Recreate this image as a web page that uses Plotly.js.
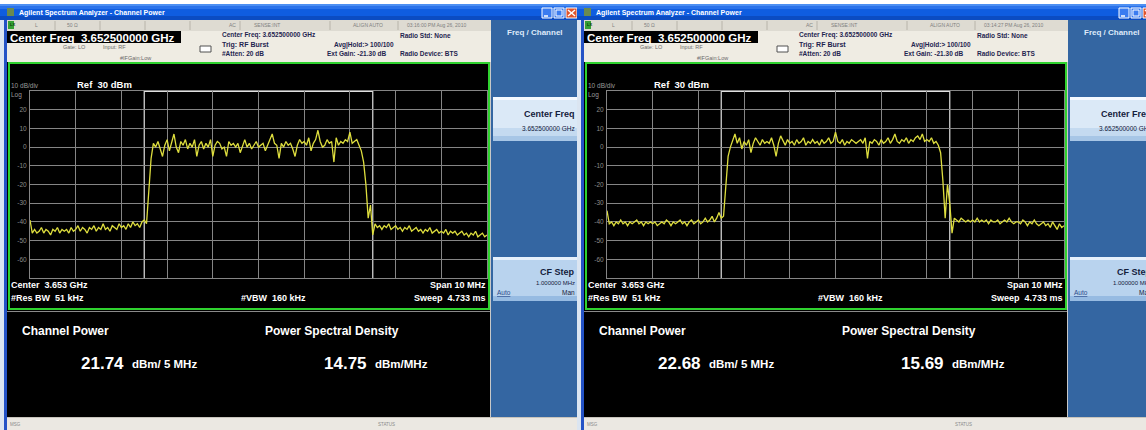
<!DOCTYPE html>
<html><head><meta charset="utf-8">
<script src="https://cdn.plot.ly/plotly-3.0.1.min.js"></script>
<style>html,body{margin:0;padding:0;background:#fff;overflow:hidden}#chart{width:1146px;height:430px}</style>
</head><body><div id="chart"></div>
<script>
// Frequency offset from the 3.6525 GHz centre (MHz), span 10 MHz
const freqOffsetMHz = [
 -5,-4.95,-4.9,-4.85,-4.8,-4.75,-4.7,-4.65,-4.6,-4.55,
 -4.5,-4.45,-4.4,-4.35,-4.3,-4.25,-4.2,-4.15,-4.1,-4.05,
 -4,-3.95,-3.9,-3.85,-3.8,-3.75,-3.7,-3.65,-3.6,-3.55,
 -3.5,-3.45,-3.4,-3.35,-3.3,-3.25,-3.2,-3.15,-3.1,-3.05,
 -3,-2.95,-2.9,-2.85,-2.8,-2.75,-2.7,-2.65,-2.6,-2.55,
 -2.5,-2.45,-2.4,-2.35,-2.3,-2.25,-2.2,-2.15,-2.1,-2.05,
 -2,-1.95,-1.9,-1.85,-1.8,-1.75,-1.7,-1.65,-1.6,-1.55,
 -1.5,-1.45,-1.4,-1.35,-1.3,-1.25,-1.2,-1.15,-1.1,-1.05,
 -1,-0.95,-0.9,-0.85,-0.8,-0.75,-0.7,-0.65,-0.6,-0.55,
 -0.5,-0.45,-0.4,-0.35,-0.3,-0.25,-0.2,-0.15,-0.1,-0.05,
 0,0.05,0.1,0.15,0.2,0.25,0.3,0.35,0.4,0.45,
 0.5,0.55,0.6,0.65,0.7,0.75,0.8,0.85,0.9,0.95,
 1,1.05,1.1,1.15,1.2,1.25,1.3,1.35,1.4,1.45,
 1.5,1.55,1.6,1.65,1.7,1.75,1.8,1.85,1.9,1.95,
 2,2.05,2.1,2.15,2.2,2.25,2.3,2.35,2.4,2.45,
 2.5,2.55,2.6,2.65,2.7,2.75,2.8,2.85,2.9,2.95,
 3,3.05,3.1,3.15,3.2,3.25,3.3,3.35,3.4,3.45,
 3.5,3.55,3.6,3.65,3.7,3.75,3.8,3.85,3.9,3.95,
 4,4.05,4.1,4.15,4.2,4.25,4.3,4.35,4.4,4.45,
 4.5,4.55,4.6,4.65,4.7,4.75,4.8,4.85,4.9,4.95,
 5
];
// Left screen trace (dBm)
const traceLeftDbm = [
 -39,-46,-44,-46,-45,-43,-46,-44,-45,-47,
 -44,-45,-43,-46,-44,-45,-44,-46,-43,-45,
 -44,-42,-45,-43,-44,-46,-43,-44,-42,-45,
 -43,-44,-41,-44,-43,-45,-42,-43,-44,-41,
 -43,-42,-44,-41,-43,-40,-42,-41,-43,-40,
 -39,-41,-22,-6,2,0,3,-1,-5,1,
 4,-2,2,7,0,-3,3,1,4,-1,
 2,0,4,-5,1,3,-1,2,0,4,
 -5,1,3,2,-1,0,-5,3,1,2,
 0,2,-3,1,4,0,2,-1,1,3,
 0,1,2,-2,1,3,7,2,1,-6,
 2,0,3,1,2,-1,-5,1,4,2,
 3,1,5,-2,2,4,9,3,0,1,
 4,2,3,-8,5,1,3,2,4,3,
 8,2,3,4,1,-2,-8,-20,-38,-31,
 -47,-41,-43,-42,-44,-42,-43,-41,-44,-43,
 -42,-44,-43,-45,-43,-44,-42,-45,-44,-43,
 -45,-44,-46,-44,-45,-43,-46,-45,-44,-46,
 -45,-46,-44,-47,-45,-46,-45,-47,-46,-45,
 -47,-46,-48,-46,-47,-45,-48,-47,-46,-48,
 -47
];
// Right screen trace (dBm)
const traceRightDbm = [
 -34,-41,-40,-42,-40,-41,-39,-41,-40,-42,
 -40,-41,-40,-39,-41,-40,-42,-40,-41,-40,
 -41,-40,-42,-41,-40,-41,-39,-40,-42,-40,
 -41,-40,-39,-41,-40,-42,-40,-39,-41,-40,
 -39,-41,-40,-38,-40,-39,-37,-40,-38,-35,
 -38,-37,-20,-5,0,4,7,2,5,-1,
 3,1,4,-3,2,5,3,1,4,2,
 3,2,5,1,-5,2,6,3,1,4,
 2,3,1,4,2,3,5,1,3,2,
 4,2,3,1,4,2,3,5,2,3,
 8,3,2,4,1,3,2,4,3,2,
 3,4,2,5,-6,3,2,4,3,1,
 4,2,3,5,2,4,7,3,2,4,
 3,5,2,4,3,5,6,4,7,3,
 4,3,5,2,3,1,-3,-18,-38,-20,
 -30,-46,-38,-39,-40,-38,-39,-40,-39,-40,
 -39,-40,-38,-40,-39,-40,-39,-41,-39,-40,
 -40,-39,-41,-40,-39,-40,-38,-40,-41,-40,
 -40,-41,-39,-40,-42,-40,-41,-39,-41,-42,
 -41,-40,-42,-41,-43,-40,-42,-44,-41,-43,
 -42
];
const yTickVals = [20,10,0,-10,-20,-30,-40,-50,-60];
const yTickText = ['20','10','0','-10','-20','-30','-40','-50','-60'];
const screenTimes = ['03:16:00 PM Aug 26, 2010','03:14:27 PM Aug 26, 2010'];
const channelPowerValues = ['21.74','22.68'];
const psdValues = ['14.75','15.69'];

const W = 1146, H = 430;
const FONT = 'Liberation Sans, Arial, sans-serif';
const shapes = [], annotations = [];
function R(x0,y0,x1,y1,fill,lc,lw){
  shapes.push({type:'rect',xref:'paper',yref:'paper',x0:x0/W,x1:x1/W,y0:1-y1/H,y1:1-y0/H,
    fillcolor:fill||'rgba(0,0,0,0)',line:{width:lw||0,color:lc||'rgba(0,0,0,0)'},layer:'below'});
}
function L(x0,y0,x1,y1,color,lw){
  shapes.push({type:'line',xref:'paper',yref:'paper',x0:x0/W,x1:x1/W,y0:1-y0/H,y1:1-y1/H,
    line:{color:color,width:lw||1},layer:'below'});
}
function T(x,y,text,size,color,anchor,bold){
  annotations.push({xref:'paper',yref:'paper',x:x/W,y:1-y/H,text:bold?'<b>'+text+'</b>':text,
    showarrow:false,xanchor:anchor||'left',yanchor:'middle',borderpad:0,
    font:{size:size,color:color,family:FONT}});
}

R(0,0,W,H,'#ffffff');
function buildWindow(o, i){
  // title bar
  R(o+0,4,o+580,6,'#4d8ff2'); R(o+0,6,o+580,9,'#2a72ea'); R(o+0,9,o+580,16,'#0f5de0'); R(o+0,16,o+580,20,'#0b4cc2');
  R(o+7,8,o+14,16,'#6a8a50');
  T(o+18,13,'Agilent Spectrum Analyzer - Channel Power',7,'#ffffff','left',true);
  R(o+542,8,o+552,18,'#3a7cf0','#ffffff',1); L(o+544,16,o+548,16,'#ffffff',1.5);
  R(o+554,8,o+564,18,'#3a7cf0','#ffffff',1); R(o+556,10,o+562,16,'rgba(0,0,0,0)','#ffffff',1);
  R(o+566,8,o+577,18,'#e0542c','#ffffff',1); L(o+568,10,o+575,16,'#ffffff',1.5); L(o+568,16,o+575,10,'#ffffff',1.5);
  // window body / borders
  R(o+0,20,o+4,H,'#dbe5f1'); R(o+4,20,o+7,H,'#2453c6');
  R(o+578,20,o+581,H,'#1b3e9a');
  // status row
  R(o+7,20,o+491,31,'#dedbd2');
  R(o+8,21,o+14,29,'#35a035'); T(o+9,25,'LX',4,'#0a3a0a','left',true);
  [55,100,145,190,240,330,398].forEach(function(s){ L(o+s,21,o+s,30,'#b8b4aa',1); });
  T(o+34,25,'L',5,'#808080','left'); T(o+66,25,'50 Ω',5,'#808080','left');
  T(o+228,25,'AC',5,'#808080','left'); T(o+253,25,'SENSE:INT',5,'#808080','left');
  T(o+352,25,'ALIGN AUTO',5,'#808080','left'); T(o+406,25,screenTimes[i],5,'#808080','left');
  // info area
  R(o+7,31,o+491,62,'#efece3');
  R(o+7,31,o+181,43,'#000000');
  T(o+9,37.5,'Center Freq  3.652500000 GHz',11.5,'#ffffff','left',true);
  T(o+62,47,'Gate: LO',5.5,'#6a6a6a','left'); T(o+102,47,'Input: RF',5.5,'#6a6a6a','left');
  T(o+119,58,'#IFGain:Low',5.5,'#6a6a6a','left');
  R(o+200,46,o+211,52,'#ffffff','#505050',1);
  T(o+221,35,'Center Freq: 3.652500000 GHz',6.5,'#1f2550','left',true);
  T(o+221,44.5,'Trig: RF Burst',7,'#1f2550','left',true);
  T(o+221,54,'#Atten: 20 dB',6.5,'#1f2550','left',true);
  T(o+333,44.5,'Avg|Hold:> 100/100',6.5,'#1f2550','left',true);
  T(o+326,54,'Ext Gain: -21.30 dB',6.5,'#1f2550','left',true);
  T(o+399,35,'Radio Std: None',6.5,'#1f2550','left',true);
  T(o+399,54,'Radio Device: BTS',6.5,'#1f2550','left',true);
  // plot frame and lower panel
  R(o+7,62,o+491,417,'#000000');
  R(o+9,63,o+489,309,'rgba(0,0,0,0)','#2fd22f',2);
  L(o+7,311.5,o+491,311.5,'#8a8a8a',1);
  L(o+490.5,62,o+490.5,417,'#c8c8c8',1);
  T(o+10,85,'10 dB/div',6.5,'#9a9a9a','left');
  T(o+10,95,'Log',6.5,'#9a9a9a','left');
  T(o+76,84.5,'Ref  30 dBm',9.5,'#ffffff','left',true);
  T(o+10,285,'Center  3.653 GHz',9,'#ffffff','left',true);
  T(o+10,298,'#Res BW  51 kHz',9,'#ffffff','left',true);
  T(o+240,298,'#VBW  160 kHz',9,'#ffffff','left',true);
  T(o+487,285,'Span 10 MHz',9,'#ffffff','right',true);
  T(o+487,298,'Sweep  4.733 ms',9,'#ffffff','right',true);
  T(o+21,331,'Channel Power',12,'#ffffff','left',true);
  T(o+264,331,'Power Spectral Density',12,'#ffffff','left',true);
  T(o+80,363,channelPowerValues[i],17,'#ffffff','left',true);
  T(o+131,364,'dBm/ 5 MHz',11.5,'#ffffff','left',true);
  T(o+323,363,psdValues[i],17,'#ffffff','left',true);
  T(o+374,364,'dBm/MHz',11.5,'#ffffff','left',true);
  // soft-key panel
  R(o+491,20,o+578,417,'#3466a2');
  T(o+535,32,'Freq / Channel',8,'#dfeafa','center',true);
  R(o+493,97,o+578,100,'#f4f9ff'); R(o+493,100,o+578,128,'#dbe9f7'); R(o+493,128,o+578,136,'#c4daf0'); R(o+493,136,o+578,141,'#a7c6e6');
  T(o+576,114,'Center Freq',9,'#14203c','right',true);
  T(o+576,128,'3.652500000 GHz',6.5,'#14203c','right');
  R(o+493,257,o+578,260,'#e6f0fb'); R(o+493,260,o+578,296,'#b9d3ee'); R(o+493,296,o+578,301,'#97bbe2');
  T(o+576,272,'CF Step',9,'#14203c','right',true);
  T(o+576,283,'1.000000 MHz',6,'#14203c','right');
  T(o+496,292,'<u>Auto</u>',6.5,'#2a4a8a','left');
  T(o+576,292,'Man',6.5,'#14203c','right');
  // bottom status bar
  R(o+7,417,o+578,H,'#ebe8e2'); L(o+7,417.5,o+578,417.5,'#c8c4bc',1);
  T(o+9,424,'MSG',4.5,'#8a8a8a','left'); T(o+377,424,'STATUS',4.5,'#8a8a8a','left');
}
buildWindow(0,0);
buildWindow(577,1);

// channel integration boundaries
[['x','y'],['x2','y2']].forEach(function(r){
  [-2.5,2.5].forEach(function(b){
    shapes.push({type:'line',xref:r[0],yref:r[1],x0:b,x1:b,y0:-70,y1:30,line:{color:'#d0d0d0',width:1.3},layer:'below'});
  });
  shapes.push({type:'line',xref:r[0],yref:r[1],x0:-2.5,x1:2.5,y0:30,y1:30,line:{color:'#e0e0e0',width:2},layer:'below'});
});

const xa = {range:[-5,5],tick0:-5,dtick:1,showgrid:true,gridcolor:'#858585',gridwidth:1,zeroline:false,
  showline:true,linecolor:'#858585',linewidth:1,mirror:true,showticklabels:false,ticks:'',fixedrange:true};
const ya = {range:[-70,30],tickmode:'array',tickvals:yTickVals,ticktext:yTickText,showgrid:true,gridcolor:'#858585',
  gridwidth:1,zeroline:false,showline:true,linecolor:'#858585',linewidth:1,mirror:true,ticks:'',
  tickfont:{size:6.5,color:'#8c8c8c',family:FONT},ticklabelstandoff:1,fixedrange:true};

const traces = [
  {x:freqOffsetMHz,y:traceLeftDbm,type:'scatter',mode:'lines',xaxis:'x',yaxis:'y',line:{color:'#dede3e',width:1.3},hoverinfo:'skip'},
  {x:freqOffsetMHz,y:traceRightDbm,type:'scatter',mode:'lines',xaxis:'x2',yaxis:'y2',line:{color:'#dede3e',width:1.3},hoverinfo:'skip'}
];
const layout = {
  width:W,height:H,margin:{l:0,r:0,t:0,b:0},paper_bgcolor:'#ffffff',plot_bgcolor:'#000000',showlegend:false,
  xaxis:Object.assign({},xa,{domain:[30/W,487/W],anchor:'y'}),
  yaxis:Object.assign({},ya,{domain:[1-278/H,1-91/H],anchor:'x'}),
  xaxis2:Object.assign({},xa,{domain:[607/W,1064/W],anchor:'y2'}),
  yaxis2:Object.assign({},ya,{domain:[1-278/H,1-91/H],anchor:'x2'}),
  shapes:shapes,annotations:annotations,font:{family:FONT}
};
Plotly.newPlot('chart',traces,layout,{staticPlot:true,displayModeBar:false});
</script></body></html>
